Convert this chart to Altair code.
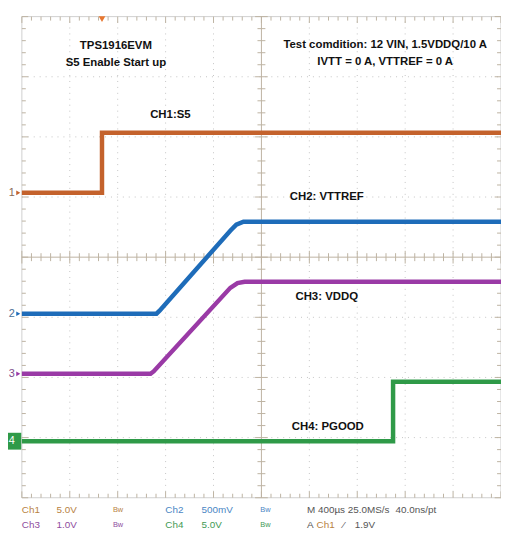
import altair as alt
import pandas as pd
import numpy as np

# ---------------- scope settings ----------------
T_DIV = 0.4          # ms per division (M 400 us)
T_MAX = 4.0          # 10 divisions
channels = ["CH1", "CH2", "CH3", "CH4"]
ch_colors = ["#C4622C", "#1E6CB9", "#9A3AA6", "#2F9A48"]
marker_colors = ["#8a6a55", "#4a6f96", "#7d4c8a", "#ffffff"]
volts_per_div = [5.0, 0.5, 1.0, 5.0]
ground_div = [1.07, -0.94, -1.94, -3.06]

# ---------------- waveforms (time ms, volts) ----------------
ch1_t = [0.0, 0.669, 0.669, 4.0]
ch1_v = [0.0, 0.0, 5.0, 5.0]
ch2_t = [0.0, 1.124, 1.15, 1.74, 1.79, 1.85, 4.0]
ch2_v = [0.0, 0.0, 0.025, 0.69, 0.74, 0.765, 0.765]
ch3_t = [0.0, 1.074, 1.10, 1.74, 1.80, 1.86, 4.0]
ch3_v = [0.0, 0.0, 0.04, 1.43, 1.51, 1.53, 1.53]
ch4_t = [0.0, 3.099, 3.099, 4.0]
ch4_v = [0.0, 0.0, 4.95, 4.95]

# ---------------- annotations ----------------
title_lines = ["TPS1916EVM", "S5 Enable Start up"]
cond_lines = ["Test comdition: 12 VIN, 1.5VDDQ/10 A", "IVTT = 0 A, VTTREF = 0 A"]
ch_labels = ["CH1:S5", "CH2: VTTREF", "CH3: VDDQ", "CH4: PGOOD"]
ch_label_t = [1.24, 2.545, 2.545, 2.554]
ch_label_y = [2.37, 1.00, -0.66, -2.83]

status_text = ["Ch1", "5.0V", "Bw", "Ch2", "500mV", "Bw", "M 400\u00b5s 25.0MS/s", "40.0ns/pt",
               "Ch3", "1.0V", "Bw", "Ch4", "5.0V", "Bw", "A", "Ch1", "\u2044", "1.9V"]
status_t = [0.0, 0.289, 0.76, 1.198, 1.50, 1.99, 2.38, 3.12,
            0.0, 0.289, 0.76, 1.198, 1.50, 1.99, 2.38, 2.46, 2.68, 2.78]
status_row = [0, 0, 0, 0, 0, 0, 0, 0, 1, 1, 1, 1, 1, 1, 1, 1, 1, 1]
status_col = ["#B8823F", "#B8823F", "#B8823F", "#4A86C4", "#4A86C4", "#4A86C4", "#555555", "#555555",
              "#8E4C9E", "#8E4C9E", "#8E4C9E", "#3F9A55", "#3F9A55", "#3F9A55", "#555555", "#B8823F", "#555555", "#555555"]
status_size = [10, 10, 7.5, 10, 10, 7.5, 10, 10, 10, 10, 7.5, 10, 10, 7.5, 10, 10, 10, 10]

# ---------------- build tables ----------------
rows = []
for name, col, ts, vs, vpd, g in zip(channels, ch_colors, [ch1_t, ch2_t, ch3_t, ch4_t],
                                      [ch1_v, ch2_v, ch3_v, ch4_v], volts_per_div, ground_div):
    for i, (t, v) in enumerate(zip(ts, vs)):
        rows.append({"ch": name, "col": col, "i": i, "t": t, "y": g + v / vpd})
traces = pd.DataFrame(rows)

xs = alt.Scale(domain=[0, T_MAX], nice=False, zero=False)
ys = alt.Scale(domain=[-4, 4], nice=False, zero=False)

def X(f="t"):
    return alt.X(f"{f}:Q", scale=xs, axis=None)

def Y(f="y"):
    return alt.Y(f"{f}:Q", scale=ys, axis=None)

# dotted grid
vg = pd.DataFrame({"t": [k * T_DIV for k in range(1, 10) if k != 5]})
vg["y0"], vg["y1"] = -4, 4
hg = pd.DataFrame({"y": [k for k in range(-3, 4) if k != 0]})
hg["t0"], hg["t1"] = 0, T_MAX
grid_v = alt.Chart(vg).mark_rule(color="#c4c4c4", strokeDash=[1, 5], strokeWidth=1).encode(
    x=X("t"), y=Y("y0"), y2="y1")
grid_h = alt.Chart(hg).mark_rule(color="#c4c4c4", strokeDash=[1, 5], strokeWidth=1).encode(
    y=Y("y"), x=X("t0"), x2="t1")

# border + centre cross
frame = pd.DataFrame({
    "t0": [0, 0, 0, T_MAX, 0, 2.0],
    "t1": [T_MAX, T_MAX, 0, T_MAX, T_MAX, 2.0],
    "y0": [4, -4, -4, -4, 0, -4],
    "y1": [4, -4, 4, 4, 0, 4],
    "col": ["#cfcfcf", "#cfcfcf", "#cfcfcf", "#cfcfcf", "#bdb3a2", "#bdb3a2"]})
frame_l = alt.Chart(frame).mark_rule(strokeWidth=1).encode(
    x=X("t0"), x2="t1", y=Y("y0"), y2="y1", color=alt.Color("col:N", scale=None))

# minor ticks
tx = np.round(np.arange(0, T_MAX + 1e-9, T_DIV / 5), 4)
ty = np.round(np.arange(-4, 4 + 1e-9, 0.2), 4)
tk = []
dt = 0.033
dy = 0.066
for t in tx:
    major = abs(t / T_DIV - round(t / T_DIV)) < 1e-6
    L = 1.6 if major else 1.0
    tk.append({"t0": t, "t1": t, "y0": -dy * L, "y1": dy * L})
    tk.append({"t0": t, "t1": t, "y0": 4, "y1": 4 - dy * L})
    tk.append({"t0": t, "t1": t, "y0": -4, "y1": -4 + dy * L})
for y in ty:
    major = abs(y - round(y)) < 1e-6
    L = 1.6 if major else 1.0
    tk.append({"t0": 2.0 - dt * L, "t1": 2.0 + dt * L, "y0": y, "y1": y})
    tk.append({"t0": 0, "t1": dt * L, "y0": y, "y1": y})
    tk.append({"t0": T_MAX, "t1": T_MAX - dt * L, "y0": y, "y1": y})
ticks = alt.Chart(pd.DataFrame(tk)).mark_rule(color="#bdb3a2", strokeWidth=1).encode(
    x=X("t0"), x2="t1", y=Y("y0"), y2="y1")

# traces
trace_l = alt.Chart(traces).mark_line(strokeWidth=4.5, interpolate="linear").encode(
    x=X("t"), y=Y("y"), order="i:Q", detail="ch:N",
    color=alt.Color("col:N", scale=None))

# ground markers
gm = pd.DataFrame({"ch": channels, "lbl": ["1", "2", "3", "4"], "y": ground_div,
                   "col": ch_colors, "mcol": marker_colors})
gm["tl"] = -0.085
gm["ta"] = -0.03
arrows = alt.Chart(gm).mark_point(shape="triangle-right", filled=True, size=22, opacity=1).encode(
    x=X("ta"), y=Y("y"), color=alt.Color("col:N", scale=None))
box4 = alt.Chart(gm[gm.ch == "CH4"].assign(t0=-0.116, t1=-0.005, y0=lambda d: d.y - 0.14,
                                           y1=lambda d: d.y + 0.14)).mark_rect(color="#2F9A48").encode(
    x=X("t0"), x2="t1", y=Y("y0"), y2="y1")
gm_txt = alt.Chart(gm).mark_text(font="Liberation Sans", fontSize=11, align="center", baseline="middle").encode(
    x=X("tl"), y=Y("y"), text="lbl:N", color=alt.Color("mcol:N", scale=None))

# trigger marker
trig = alt.Chart(pd.DataFrame({"t": [ch1_t[1]], "y": [3.96]})).mark_point(
    shape="triangle-down", filled=True, size=45, color="#E8762E", opacity=1).encode(x=X("t"), y=Y("y"))

# text annotations
tdf = pd.DataFrame({
    "txt": title_lines + cond_lines + ch_labels,
    "t": [0.785, 0.785, 3.033, 3.033] + ch_label_t,
    "y": [3.506, 3.226, 3.52, 3.24] + ch_label_y})
ann = alt.Chart(tdf).mark_text(font="Liberation Sans", fontSize=11.5, fontWeight="bold", color="#111111",
                               align="center", baseline="middle").encode(x=X("t"), y=Y("y"), text="txt:N")

sdf = pd.DataFrame({"txt": status_text, "t": status_t,
                    "y": [-4.21 if r == 0 else -4.45 for r in status_row],
                    "col": status_col, "sz": status_size})
stat = alt.Chart(sdf).mark_text(font="Liberation Sans", align="left", baseline="middle").encode(
    x=X("t"), y=Y("y"), text="txt:N", color=alt.Color("col:N", scale=None),
    size=alt.Size("sz:Q", scale=None))

chart = alt.layer(grid_v, grid_h, frame_l, ticks, trace_l, box4, arrows, gm_txt, trig, ann, stat).properties(
    width=484, height=486,
    padding={"left": 14, "top": 6, "right": 0, "bottom": 40},
    autosize=alt.AutoSizeParams(type="none"),
    background="white",
).configure_view(stroke=None)

chart.save("out.html", embed_options={"renderer": "svg", "actions": False})
